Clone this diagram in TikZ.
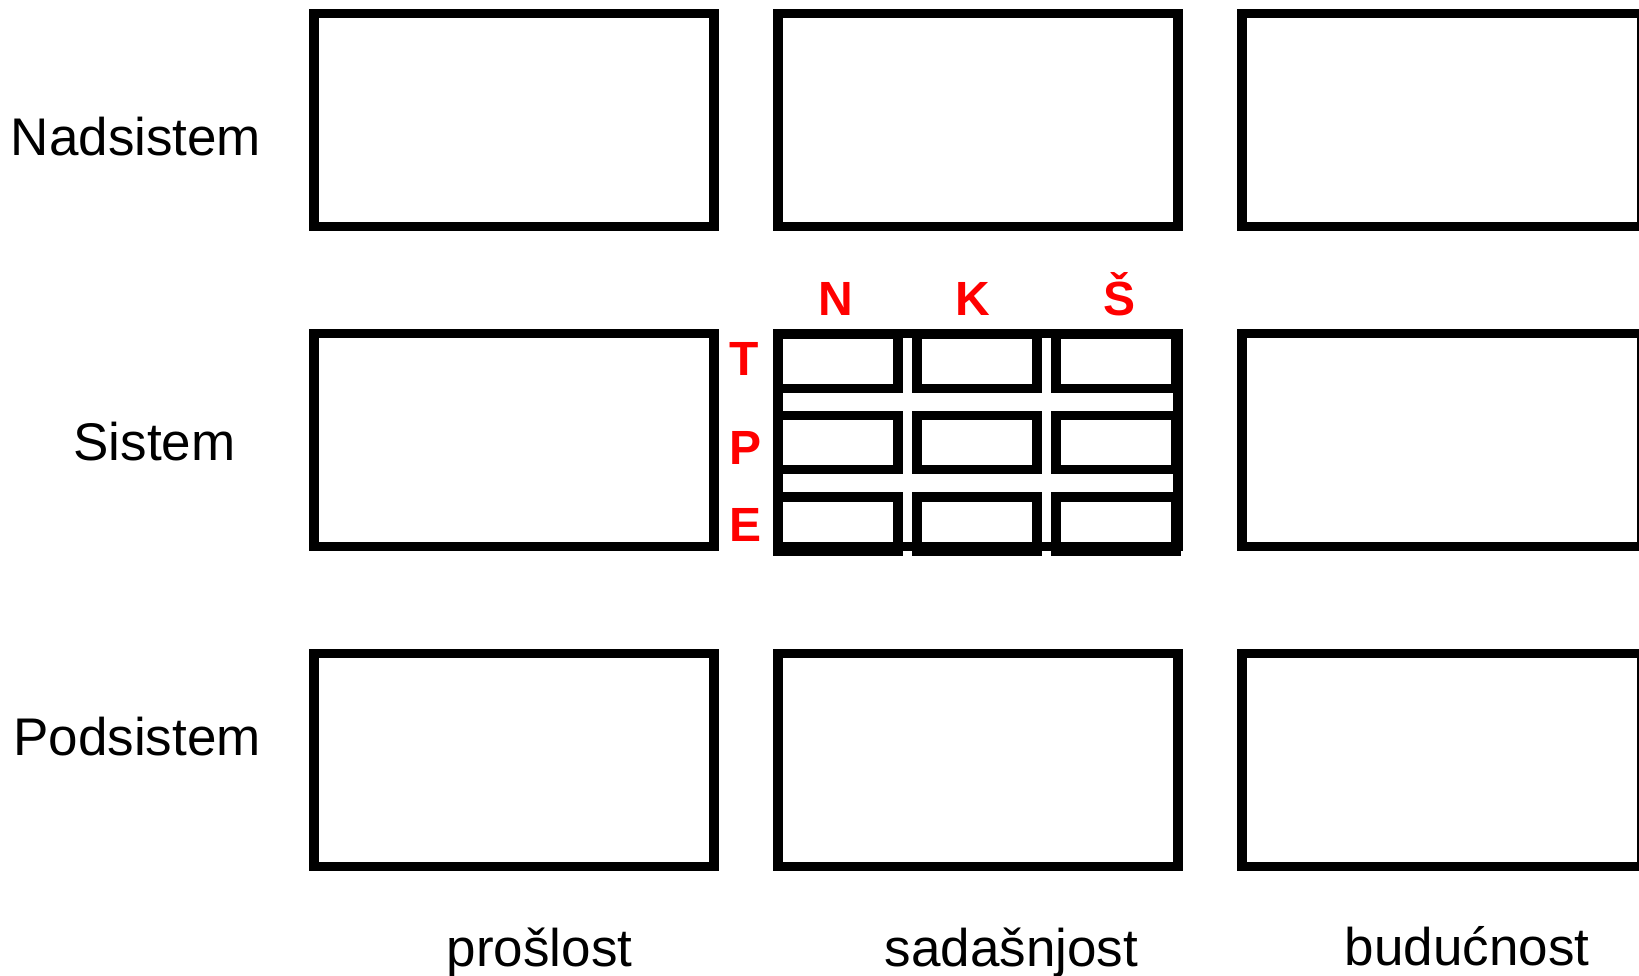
\documentclass[tikz,border=0pt]{standalone}
\usepackage{fontspec}
\setmainfont{Liberation Sans}
\begin{document}
\begin{tikzpicture}[x=1pt,y=-1pt,
  bigbox/.style={draw=black,line width=9.3pt,inner sep=0pt,outer sep=0pt,minimum width=400pt,minimum height=212.8pt,fill=white},
  cellbox/.style={draw=black,line width=9.3pt,inner sep=0pt,outer sep=0pt,minimum width=120pt,minimum height=54pt},
  rowlabel/.style={anchor=base,inner sep=0pt,font=\fontsize{53}{60}\selectfont},
  redlabel/.style={anchor=base,inner sep=0pt,text=red,font=\fontsize{48}{56}\selectfont\bfseries}]
\clip (0,0) rectangle (1639,976);
\fill[white] (0,0) rectangle (1639,976);
% boxes
\node[bigbox] (np) at (514,120.1) {};
\node[bigbox] (ns) at (978,120.1) {};
\node[bigbox] (nb) at (1442,120.1) {};
\node[bigbox] (sp) at (514,440.1) {};
\node[bigbox] (ss) at (978,440.1) {};
\node[bigbox] (sb) at (1442,440.1) {};
\node[bigbox] (pp) at (514,760.1) {};
\node[bigbox] (ps) at (978,760.1) {};
\node[bigbox] (pb) at (1442,760.1) {};
% cells
\node[cellbox] (tn) at (838,361.5) {};
\node[cellbox] (tk) at (977,361.5) {};
\node[cellbox] (ts) at (1116,361.5) {};
\node[cellbox] (pn) at (838,442.8) {};
\node[cellbox] (pk) at (977,442.8) {};
\node[cellbox] (ps2) at (1116,442.8) {};
\node[cellbox] (en) at (838,524.1) {};
\node[cellbox] (ek) at (977,524.1) {};
\node[cellbox] (es) at (1116,524.1) {};
% row labels
\node[rowlabel] (lnad) at (136,155.7) {Nadsistem};
\node[rowlabel] (lsis) at (154.5,460) {Sistem};
\node[rowlabel] (lpod) at (137,755) {Podsistem};
% column labels
\node[rowlabel] (lpro) at (539.6,966) {prošlost};
\node[rowlabel] (lsad) at (1011.5,966) {sadašnjost};
\node[rowlabel] (lbud) at (1467,965) {budućnost};
% red labels
\node[redlabel] (rn) at (836,315.7) {N};
\node[redlabel] (rk) at (973,315.7) {K};
\node[redlabel] (rs) at (1119,315.7) {Š};
\node[redlabel] (rt) at (744,376) {T};
\node[redlabel] (rp) at (746,464) {P};
\node[redlabel] (re) at (746,541.7) {E};
\end{tikzpicture}
\end{document}
